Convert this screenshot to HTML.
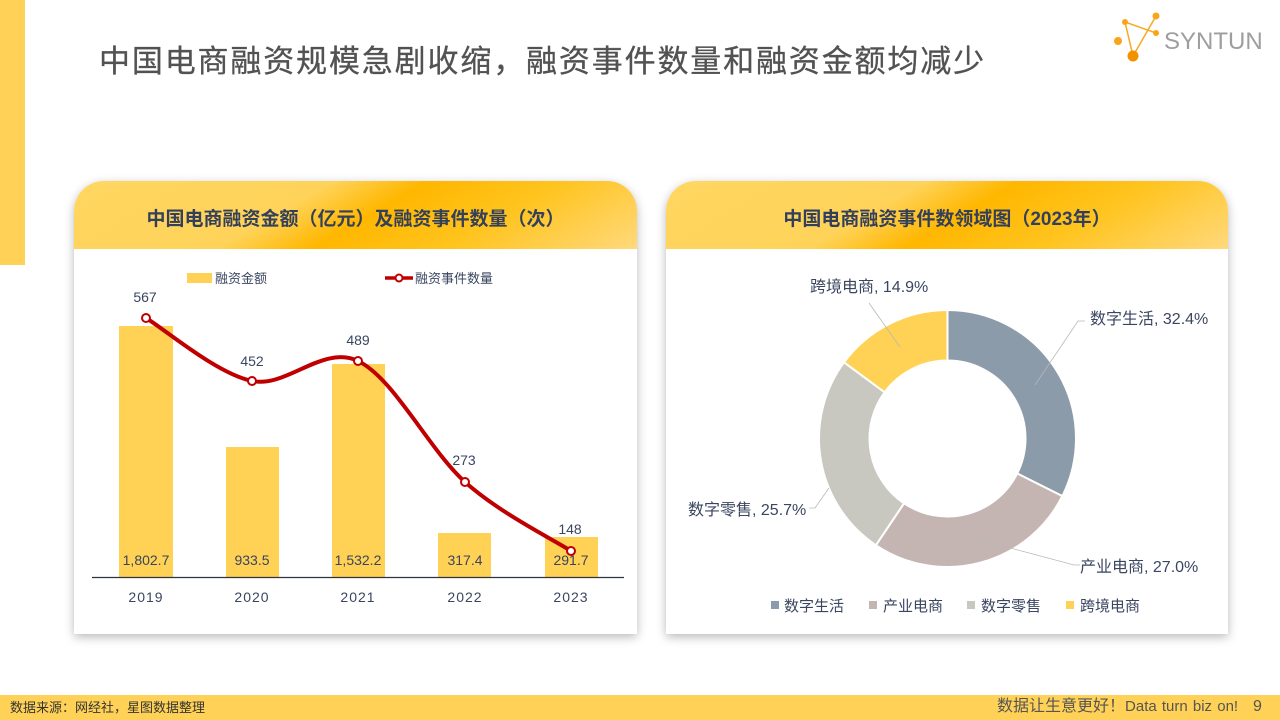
<!DOCTYPE html>
<html><head><meta charset="utf-8">
<style>
*{margin:0;padding:0;box-sizing:border-box}
body{width:1280px;height:720px;overflow:hidden;background:#fff;position:relative;font-family:"Liberation Sans","Noto Sans CJK SC",sans-serif}
.lbar{position:absolute;left:0;top:0;width:25px;height:265px;background:#ffd257}
.title{position:absolute;left:99px;top:40px;font-size:31px;letter-spacing:1.85px;color:#525252;white-space:nowrap;line-height:44px;font-family:"Liberation Sans","Noto Sans CJK SC",sans-serif;-webkit-text-stroke:0.3px #525252}
.card{position:absolute;top:181px;width:563px;height:453px;background:#fff;border-radius:30px 30px 0 0;box-shadow:0 3px 10px rgba(0,0,0,0.28)}
.hdr{position:absolute;left:0;top:0;width:100%;height:68px;border-radius:30px 30px 0 0;background:linear-gradient(150deg,#ffd660 0%,#ffd35a 38%,#ffb700 52%,#ffc41f 72%,#ffd97c 100%);text-align:center;line-height:78px;font-weight:bold;font-size:19px;color:#34405a;white-space:nowrap}
.foot{position:absolute;left:0;top:695px;width:1280px;height:25px;background:#ffd257}
.fl{position:absolute;left:10px;top:0;line-height:25px;font-size:13px;color:#333}
.fr{position:absolute;left:997px;top:0;line-height:24px;font-size:16px;color:#555;white-space:nowrap}
.fr span{font-size:15px;word-spacing:1px}
.pg{position:absolute;left:1253px;top:0;line-height:24px;font-size:16px;color:#555}
svg{position:absolute;left:0;top:0}
</style></head><body>
<div class="lbar"></div>
<div class="title">中国电商融资规模急剧收缩，融资事件数量和融资金额均减少</div>

<div class="card" style="left:74px"><div class="hdr">中国电商融资金额（亿元）及融资事件数量（次）</div></div>
<div class="card" style="left:666px;width:562px"><div class="hdr">中国电商融资事件数领域图（2023年）</div></div>

<div class="foot"><div class="fl">数据来源：网经社，星图数据整理</div><div class="fr">数据让生意更好！<span>Data turn biz on!</span></div><div class="pg">9</div></div>

<svg width="1280" height="720" viewBox="0 0 1280 720" xmlns="http://www.w3.org/2000/svg" font-family="Liberation Sans, Noto Sans CJK SC, sans-serif">
<!-- logo -->
<g stroke="#f7a823" stroke-width="1.5" fill="none">
<line x1="1125" y1="22" x2="1133" y2="56"/>
<line x1="1133" y1="56" x2="1156" y2="16"/>
<line x1="1125" y1="22" x2="1156" y2="33"/>
</g>
<circle cx="1125" cy="22" r="3" fill="#f9a51a"/>
<circle cx="1156" cy="16" r="3.5" fill="#f9a51a"/>
<circle cx="1156" cy="33" r="3" fill="#f9a51a"/>
<circle cx="1118" cy="41" r="4" fill="#f9a51a"/>
<circle cx="1133" cy="56" r="5.5" fill="#f39200"/>
<text x="1164" y="49" font-size="24" fill="#9e9e9e">SYNTUN</text>

<!-- left chart legend -->
<rect x="187" y="273" width="25" height="10" fill="#ffd154"/>
<text x="215" y="283" font-size="13" fill="#3a4560">融资金额</text>
<line x1="385" y1="278" x2="413" y2="278" stroke="#c00000" stroke-width="3.5"/>
<circle cx="399" cy="278" r="3.5" fill="#fff" stroke="#c00000" stroke-width="2"/>
<text x="415" y="283" font-size="13" fill="#3a4560">融资事件数量</text>

<!-- bars -->
<g fill="#ffd154">
<rect x="119" y="326" width="54" height="251"/>
<rect x="226" y="447" width="53" height="130"/>
<rect x="332" y="364" width="53" height="213"/>
<rect x="438" y="533" width="53" height="44"/>
<rect x="545" y="537" width="53" height="40"/>
</g>
<line x1="92" y1="577.5" x2="624" y2="577.5" stroke="#2e3340" stroke-width="1.2"/>
<g font-size="14" fill="#3a4560" text-anchor="middle">
<text x="146" y="565">1,802.7</text>
<text x="252" y="565">933.5</text>
<text x="358" y="565">1,532.2</text>
<text x="465" y="565">317.4</text>
<text x="571" y="565">291.7</text>
</g>
<g font-size="14" fill="#3a4560" text-anchor="middle" letter-spacing="1">
<text x="146" y="602">2019</text>
<text x="252" y="602">2020</text>
<text x="358" y="602">2021</text>
<text x="465" y="602">2022</text>
<text x="571" y="602">2023</text>
</g>
<!-- line -->
<path d="M146,318 C163.7,328.5 216.7,373.8 252,381 C287.3,388.2 322.5,344.2 358,361 C393.5,377.8 429.5,450.3 465,482 C500.5,513.7 553.3,539.5 571,551" fill="none" stroke="#c00000" stroke-width="4"/>
<g fill="#fff" stroke="#c00000" stroke-width="2">
<circle cx="146" cy="318" r="4"/>
<circle cx="252" cy="381" r="4"/>
<circle cx="358" cy="361" r="4"/>
<circle cx="465" cy="482" r="4"/>
<circle cx="571" cy="551" r="4"/>
</g>
<g font-size="14" fill="#3a4560" text-anchor="middle">
<text x="145" y="302">567</text>
<text x="252" y="366">452</text>
<text x="358" y="345">489</text>
<text x="464" y="465">273</text>
<text x="570" y="534">148</text>
</g>

<!-- donut -->
<g stroke="#fff" stroke-width="2">
<path d="M947.5,310 A128.5,128.5 0 0 1 1062.35,496.12 L1017.22,473.48 A78,78 0 0 0 947.5,360.5 Z" fill="#8c9baa"/>
<path d="M1062.35,496.12 A128.5,128.5 0 0 1 875.91,545.22 L904.05,503.28 A78,78 0 0 0 1017.22,473.48 Z" fill="#c4b5b2"/>
<path d="M875.91,545.22 A128.5,128.5 0 0 1 844.01,362.34 L884.68,392.27 A78,78 0 0 0 904.05,503.28 Z" fill="#c8c8c0"/>
<path d="M844.01,362.34 A128.5,128.5 0 0 1 947.5,310 L947.5,360.5 A78,78 0 0 0 884.68,392.27 Z" fill="#ffd154"/>
</g>
<g stroke="#b8b8b8" stroke-width="0.8" fill="none">
<polyline points="1035,385 1078,321 1085,321"/>
<polyline points="900,347 869,303"/>
<polyline points="829,488 815,508 809,508"/>
<polyline points="973,538 1074,565 1080,565"/>
</g>
<g font-size="16" fill="#3a4560">
<text x="810" y="292">跨境电商, 14.9%</text>
<text x="1090" y="324">数字生活, 32.4%</text>
<text x="688" y="515">数字零售, 25.7%</text>
<text x="1080" y="572">产业电商, 27.0%</text>
</g>
<rect x="771" y="601" width="8" height="8" fill="#8c9baa"/>
<rect x="869" y="601" width="8" height="8" fill="#c4b5b2"/>
<rect x="967" y="601" width="8" height="8" fill="#c8c8c0"/>
<rect x="1066" y="601" width="8" height="8" fill="#ffd154"/>
<g font-size="15" fill="#3a4560">
<text x="784" y="611">数字生活</text>
<text x="883" y="611">产业电商</text>
<text x="981" y="611">数字零售</text>
<text x="1080" y="611">跨境电商</text>
</g>
</svg>
</body></html>
